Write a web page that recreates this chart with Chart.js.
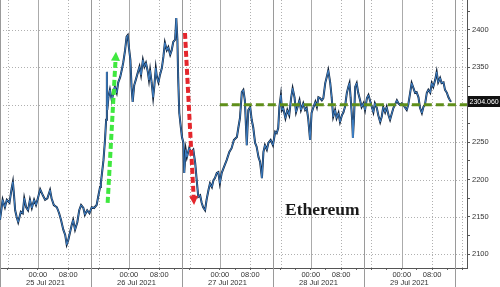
<!DOCTYPE html>
<html>
<head>
<meta charset="utf-8">
<script src="https://cdn.jsdelivr.net/npm/chart.js@4.4.1/dist/chart.umd.min.js"></script>
<style>
  html, body { margin: 0; padding: 0; background: #fff; }
  #chart { display: block; }
</style>
</head>
<body>
<canvas id="chart" width="500" height="287"></canvas>
<script>
// time is counted in hours from 24 Jul 2021 14:00
const startHourOfDay = 14;

const hours = [
  0.0, 0.7, 1.3, 1.8, 2.5, 3.1, 3.4, 3.7, 4.0, 4.4, 4.8, 5.5, 6.0, 6.4, 6.9, 7.4, 7.9, 8.4, 9.0, 9.5,
  10.1, 10.6, 11.3, 11.9, 12.5, 13.2, 13.6, 14.2, 15.0, 15.6, 16.1, 16.7, 17.2, 17.6, 18.0, 18.5, 18.9, 19.3, 19.8, 20.4,
  20.9, 21.4, 22.0, 22.4, 23.0, 23.6, 24.2, 24.8, 25.5, 25.9, 26.4, 26.6, 27.3, 27.7, 28.0, 28.2, 28.3, 28.6, 29.0, 29.5,
  29.9, 30.3, 30.8, 31.2, 31.7, 32.1, 32.5, 33.0, 33.4, 33.7, 34.0, 34.4, 34.7, 35.0, 35.4, 35.8, 36.3, 36.8, 37.2, 37.7,
  38.1, 38.5, 39.0, 39.3, 39.6, 40.0, 40.4, 40.7, 41.1, 41.4, 41.8, 42.2, 42.7, 43.1, 43.5, 44.0, 44.4, 44.9, 45.3, 45.7,
  46.2, 46.5, 46.8, 47.0, 47.3, 47.7, 48.0, 48.4, 48.6, 49.0, 49.3, 49.9, 50.4, 51.0, 51.5, 51.9, 52.3, 52.8, 53.2, 53.6,
  54.1, 54.5, 55.0, 55.4, 55.9, 56.3, 56.7, 57.2, 57.6, 58.0, 58.5, 59.1, 59.8, 60.5, 61.1, 61.7, 62.5, 62.9, 63.3, 63.8,
  64.2, 64.6, 65.1, 65.5, 66.0, 66.4, 66.8, 67.3, 67.7, 68.2, 68.6, 69.1, 69.5, 69.9, 70.4, 70.8, 71.4, 72.0, 72.6, 73.0,
  73.4, 73.7, 74.1, 74.4, 74.7, 75.3, 75.8, 76.3, 76.8, 77.2, 77.7, 78.1, 78.5, 79.0, 79.4, 80.0, 80.5, 80.9, 81.3, 81.8,
  82.2, 82.7, 83.2, 83.6, 84.0, 84.4, 84.9, 85.3, 85.8, 86.2, 86.6, 87.1, 87.5, 87.9, 88.4, 88.8, 89.3, 89.7, 90.2, 90.6,
  91.0, 91.5, 91.9, 92.2, 92.5, 92.9, 93.1, 93.4, 93.7, 94.1, 94.5, 95.0, 95.4, 95.9, 96.3, 96.8, 97.2, 97.6, 98.1, 98.5,
  98.9, 99.4, 99.8, 100.3, 100.7, 101.1, 101.6, 102.0, 102.5, 102.9, 103.4, 103.8, 104.2, 104.7, 105.1, 105.5, 106.0, 106.4, 106.9, 107.3,
  107.7, 108.2, 108.6, 109.1, 109.5, 109.9, 110.4, 110.8, 111.3, 111.7, 112.1, 112.6, 113.0, 113.5, 113.9, 114.3, 114.8, 115.2, 115.6, 116.1,
  116.5, 117.0, 117.4, 117.9, 118.3, 118.7, 119.0
];

const prices = [
  2146, 2173, 2163, 2173, 2169, 2189, 2197, 2179, 2159, 2150, 2143, 2157, 2155, 2175, 2163, 2159, 2173, 2162, 2173, 2166,
  2177, 2187, 2179, 2173, 2175, 2186, 2175, 2166, 2163, 2155, 2146, 2133, 2126, 2113, 2119, 2130, 2139, 2146, 2133, 2143,
  2159, 2166, 2162, 2153, 2159, 2155, 2163, 2162, 2166, 2177, 2190, 2195, 2226, 2253, 2280, 2344, 2293, 2310, 2320, 2306,
  2316, 2324, 2316, 2330, 2337, 2346, 2356, 2373, 2391, 2393, 2377, 2360, 2324, 2304, 2326, 2333, 2342, 2351, 2340, 2360,
  2351, 2356, 2344, 2333, 2346, 2330, 2310, 2324, 2349, 2337, 2330, 2340, 2349, 2364, 2383, 2373, 2377, 2367, 2373, 2384,
  2387, 2416, 2387, 2337, 2289, 2270, 2257, 2249, 2209, 2240, 2230, 2242, 2236, 2240, 2222, 2199, 2177, 2179, 2169, 2163,
  2159, 2173, 2186, 2195, 2190, 2199, 2202, 2209, 2210, 2195, 2209, 2217, 2226, 2237, 2242, 2253, 2257, 2270, 2282, 2317,
  2320, 2306, 2246, 2293, 2297, 2280, 2270, 2249, 2244, 2230, 2224, 2202, 2237, 2246, 2240, 2249, 2253, 2246, 2264, 2262,
  2269, 2297, 2313, 2293, 2296, 2282, 2293, 2286, 2309, 2322, 2310, 2290, 2297, 2306, 2293, 2302, 2293, 2296, 2282, 2253,
  2289, 2297, 2304, 2297, 2310, 2309, 2306, 2309, 2329, 2337, 2346, 2330, 2310, 2284, 2293, 2282, 2289, 2277, 2286, 2290,
  2297, 2316, 2324, 2329, 2310, 2280, 2256, 2284, 2324, 2329, 2316, 2306, 2297, 2302, 2293, 2309, 2313, 2306, 2297, 2290,
  2302, 2296, 2286, 2277, 2284, 2297, 2290, 2297, 2286, 2280, 2289, 2296, 2300, 2306, 2302, 2300, 2302, 2300, 2296, 2293,
  2300, 2316, 2329, 2322, 2316, 2317, 2310, 2296, 2289, 2297, 2300, 2316, 2320, 2316, 2329, 2324, 2333, 2344, 2330, 2336,
  2329, 2330, 2320, 2316, 2310, 2306, 2304.06
];

const xMax = 123.2;
const yMin = 2081.8;
const yMax = 2440.1;

const xTickHours = [2, 6, 10, 14, 18, 22, 26, 30, 34, 38, 42, 46, 50, 54, 58, 62, 66, 70, 74, 78, 82, 86, 90, 94, 98, 102, 106, 110, 114, 118, 122];
const dayStartHours = [10, 34, 58, 82, 106];
const dottedHours = [2, 18, 26, 42, 50, 66, 74, 90, 98, 114, 122];
const sessionBreaks = [0, 24, 48, 72, 96, 120];
const dateCenters = [12, 36, 60, 84, 108];
const dateLabels = ['25 Jul 2021', '26 Jul 2021', '27 Jul 2021', '28 Jul 2021', '29 Jul 2021'];

const yTickValues = [2100, 2125, 2150, 2175, 2200, 2225, 2250, 2275, 2300, 2325, 2350, 2375, 2400, 2425];
const gridPrices = [2100, 2150, 2200, 2250, 2300, 2350, 2400];

const lastPrice = 2304.06;
const levelPrice = 2300;
const levelStart = 58;
const greenArrow = [[28.4, 2169], [30.6, 2371]];
const redArrow = [[48.8, 2396], [51.2, 2166]];
const titleText = 'Ethereum';
const titleAt = [75.2, 2152.6];

const points = hours.map((h, i) => ({ x: h, y: prices[i] }));
const axisFont = { family: 'Liberation Sans, Arial, sans-serif', size: 7.5 };

function line(ctx, x1, y1, x2, y2) {
    ctx.beginPath();
    ctx.moveTo(x1, y1);
    ctx.lineTo(x2, y2);
    ctx.stroke();
}

function arrow(ctx, xs, ys, from, to, color) {
    const x1 = xs.getPixelForValue(from[0]), y1 = ys.getPixelForValue(from[1]);
    const x2 = xs.getPixelForValue(to[0]), y2 = ys.getPixelForValue(to[1]);
    const ang = Math.atan2(y2 - y1, x2 - x1);
    const head = 9, half = 4.5;
    const bx = x2 - Math.cos(ang) * head, by = y2 - Math.sin(ang) * head;
    ctx.strokeStyle = color;
    ctx.lineWidth = 4;
    ctx.setLineDash([6, 3]);
    line(ctx, x1, y1, bx, by);
    ctx.setLineDash([]);
    ctx.fillStyle = color;
    ctx.beginPath();
    ctx.moveTo(x2, y2);
    ctx.lineTo(bx + Math.sin(ang) * half, by - Math.cos(ang) * half);
    ctx.lineTo(bx - Math.sin(ang) * half, by + Math.cos(ang) * half);
    ctx.closePath();
    ctx.fill();
}

const annotate = {
    id: 'annotate',
    beforeDatasetsDraw(chart) {
        const { ctx, chartArea: a, scales: { x, y } } = chart;
        ctx.save();
        ctx.lineWidth = 1;
        // dotted grid
        ctx.strokeStyle = '#b0b0b0';
        ctx.setLineDash([1, 2]);
        gridPrices.forEach(p => {
            const py = Math.round(y.getPixelForValue(p)) + 0.5;
            line(ctx, a.left, py, a.right, py);
        });
        dottedHours.forEach(h => {
            const px = Math.round(x.getPixelForValue(h)) + 0.5;
            line(ctx, px, a.top, px, a.bottom);
        });
        // solid lines at midnight and at the date breaks
        ctx.setLineDash([]);
        ctx.strokeStyle = '#ababab';
        dayStartHours.forEach(h => {
            const px = Math.round(x.getPixelForValue(h)) + 0.5;
            line(ctx, px, a.top, px, a.bottom);
        });
        ctx.strokeStyle = '#9a9a9a';
        sessionBreaks.forEach(h => {
            const px = Math.round(x.getPixelForValue(h)) + 0.5;
            line(ctx, px, a.top, px, chart.height);
        });
        // date row under the time labels
        ctx.fillStyle = '#333';
        ctx.font = '7.5px "Liberation Sans", Arial, sans-serif';
        ctx.textAlign = 'center';
        ctx.textBaseline = 'middle';
        dateCenters.forEach((h, i) => {
            ctx.fillText(dateLabels[i], x.getPixelForValue(h), a.bottom + 15);
        });
        ctx.restore();
    },
    afterDatasetsDraw(chart) {
        const { ctx, chartArea: a, scales: { x, y } } = chart;
        ctx.save();
        // level line
        const ly = y.getPixelForValue(levelPrice);
        ctx.strokeStyle = '#5f8f1a';
        ctx.lineWidth = 3;
        ctx.setLineDash([8, 4]);
        line(ctx, x.getPixelForValue(levelStart), ly, a.right, ly);
        ctx.setLineDash([]);

        arrow(ctx, x, y, greenArrow[0], greenArrow[1], '#3fe83f');
        arrow(ctx, x, y, redArrow[0], redArrow[1], '#e4262c');

        // title
        ctx.fillStyle = '#1a1a1a';
        ctx.font = 'bold 17.5px "Liberation Serif", "Times New Roman", serif';
        ctx.textBaseline = 'alphabetic';
        ctx.textAlign = 'left';
        ctx.fillText(titleText, x.getPixelForValue(titleAt[0]), y.getPixelForValue(titleAt[1]));

        // last price tag
        const py = y.getPixelForValue(lastPrice);
        ctx.fillStyle = '#111';
        ctx.fillRect(a.right + 1, Math.round(py - 5.5), chart.width - a.right - 1, 11);
        ctx.fillStyle = '#fff';
        ctx.font = '7px "Liberation Sans", Arial, sans-serif';
        ctx.textBaseline = 'middle';
        ctx.fillText(lastPrice.toFixed(3), a.right + 2.5, py);
        ctx.restore();
    }
};

new Chart(document.getElementById('chart'), {
    type: 'line',
    data: {
        datasets: [
            { data: points, borderColor: '#3f82c9', borderWidth: 1, pointRadius: 0, order: 0 },
            { data: points, borderColor: '#12233a', borderWidth: 2, pointRadius: 0, order: 1 }
        ]
    },
    options: {
        responsive: false,
        animation: false,
        devicePixelRatio: 1,
        layout: { padding: 0 },
        plugins: { legend: { display: false }, tooltip: { enabled: false } },
        scales: {
            x: {
                type: 'linear', position: 'bottom', min: 0, max: xMax,
                afterBuildTicks: s => { s.ticks = xTickHours.map(v => ({ value: v })); },
                afterFit: s => { s.height = 19; s.paddingLeft = 0; s.paddingRight = 0; },
                grid: { drawOnChartArea: false, drawTicks: true, tickLength: 2, tickColor: '#666' },
                border: { color: '#555', width: 1 },
                ticks: {
                    autoSkip: false, maxRotation: 0, padding: 0, color: '#333', font: axisFont,
                    callback: v => {
                        const hod = (startHourOfDay + v) % 24;
                        return hod === 0 ? '00:00' : hod === 8 ? '08:00' : '';
                    }
                }
            },
            y: {
                type: 'linear', position: 'right', min: yMin, max: yMax,
                afterBuildTicks: s => { s.ticks = yTickValues.map(v => ({ value: v })); },
                afterFit: s => { s.width = 33; s.paddingTop = 0; s.paddingBottom = 0; },
                grid: { drawOnChartArea: false, drawTicks: true, tickLength: 3, tickColor: '#555' },
                border: { color: '#555', width: 1 },
                ticks: {
                    autoSkip: false, padding: 2, color: '#333', font: axisFont,
                    callback: v => (v % 50 === 0 ? String(v) : '')
                }
            }
        }
    },
    plugins: [annotate]
});
</script>
</body>
</html>
